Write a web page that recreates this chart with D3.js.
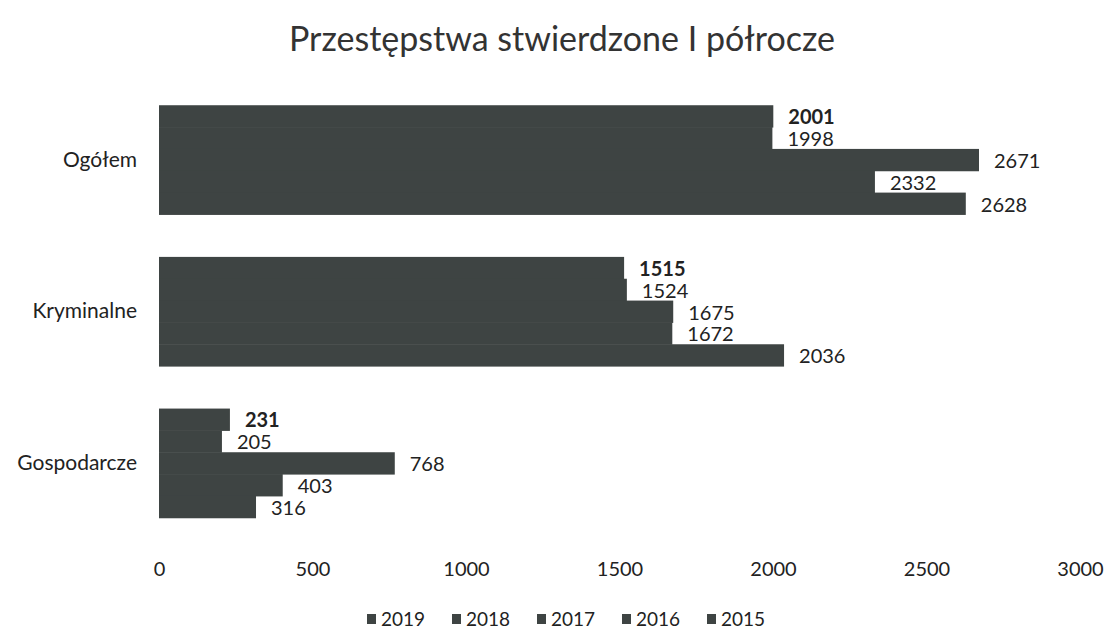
<!DOCTYPE html>
<html><head><meta charset="utf-8">
<script src="https://cdn.jsdelivr.net/npm/d3@7"></script>
<style>body{margin:0;background:#fff}svg{display:block}text{font-family:Lato,"Open Sans",sans-serif}</style>
</head><body><svg id="c" width="1110" height="632"></svg>
<script>
const title = "Przestępstwa stwierdzone I półrocze";
const categories = ["Ogółem", "Kryminalne", "Gospodarcze"];
const seriesNames = ["2019", "2018", "2017", "2016", "2015"];
const v2019 = [2001, 1515, 231];
const v2018 = [1998, 1524, 205];
const v2017 = [2671, 1675, 768];
const v2016 = [2332, 1672, 403];
const v2015 = [2628, 2036, 316];
const ticks = [0, 500, 1000, 1500, 2000, 2500, 3000];
const seriesValues = [v2019, v2018, v2017, v2016, v2015];

const svg = d3.select("#c");
const barColor = "#3e4443";
const x = d3.scaleLinear().domain([0, 3000]).range([159, 1080]);
const y = d3.scaleBand().domain(categories).range([84, 539]).paddingInner(0.28).paddingOuter(0.14);
const ys = d3.scaleBand().domain(seriesNames).range([0, y.bandwidth()]);

svg.append("text").attr("x", 562).attr("y", 51).attr("text-anchor", "middle")
  .attr("font-size", 34).attr("fill", "#333").text(title);

const data = [];
categories.forEach((c, i) => seriesNames.forEach((s, j) => data.push({c, s, v: seriesValues[j][i], bold: j === 0})));

svg.append("g").selectAll("rect").data(data).join("rect")
  .attr("x", x(0)).attr("y", d => y(d.c) + ys(d.s))
  .attr("width", d => x(d.v) - x(0)).attr("height", ys.bandwidth() + 0.5)
  .attr("fill", barColor);

svg.append("g").selectAll("text").data(data).join("text")
  .attr("x", d => x(d.v) + 15).attr("y", d => y(d.c) + ys(d.s) + ys.bandwidth() / 2 + 1)
  .attr("dy", "0.35em").attr("font-size", 20).attr("fill", "#222")
  .attr("font-weight", d => d.bold ? "bold" : "normal").text(d => d.v);

const xa = svg.append("g").attr("transform", "translate(0,569)")
  .call(d3.axisBottom(x).tickValues(ticks).tickSize(0).tickPadding(0).tickFormat(d3.format("d")));
xa.select(".domain").remove();
xa.selectAll("text").attr("font-size", 20).attr("fill", "#222").attr("dy", "0.35em").style("font-family", "Lato,sans-serif");

const ya = svg.append("g").attr("transform", "translate(137,0)")
  .call(d3.axisLeft(y).tickSize(0).tickPadding(0));
ya.select(".domain").remove();
ya.selectAll("text").attr("font-size", 21).attr("fill", "#222").style("font-family", "Lato,sans-serif");

const lg = svg.append("g").attr("transform", "translate(0,619)");
const lx = d3.scaleBand().domain(seriesNames).range([367, 792]);
const items = lg.selectAll("g").data(seriesNames).join("g").attr("transform", d => `translate(${lx(d)},0)`);
items.append("rect").attr("x", 0).attr("y", -5).attr("width", 9).attr("height", 10).attr("fill", barColor);
items.append("text").attr("x", 14).attr("y", 0).attr("dy", "0.35em").attr("font-size", 19).attr("fill", "#222").text(d => d);
</script></body></html>
